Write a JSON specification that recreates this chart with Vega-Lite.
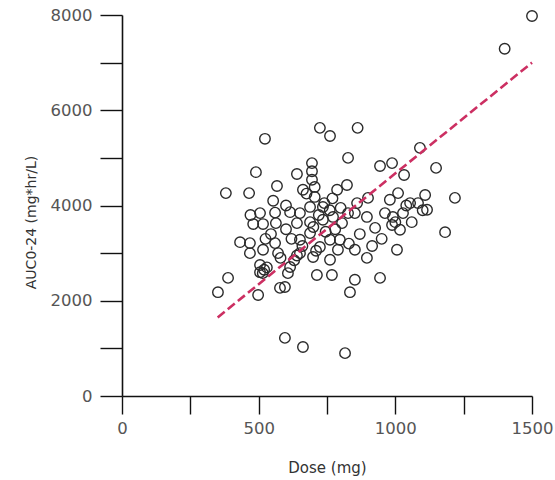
{
  "$schema": "https://vega.github.io/schema/vega-lite/v6.json",
  "autosize": "none",
  "width": 410,
  "height": 381,
  "padding": {"left": 122, "top": 15, "right": 23, "bottom": 84},
  "background": "white",
  "config": {
    "view": {"stroke": null},
    "font": "DejaVu Sans",
    "axis": {
      "grid": false,
      "domainColor": "#111",
      "domainWidth": 1.6,
      "tickColor": "#111",
      "tickWidth": 1.4,
      "labelColor": "#555",
      "labelFontSize": 16.5,
      "labelFont": "DejaVu Sans",
      "titleFont": "DejaVu Sans",
      "titleFontWeight": "normal",
      "titleColor": "#333"
    }
  },
  "datasets": {
    "pts": [
      {"dose": 1500, "auc": 7980}, {"dose": 1400, "auc": 7290}, {"dose": 523, "auc": 5400},
      {"dose": 724, "auc": 5630}, {"dose": 761, "auc": 5460}, {"dose": 862, "auc": 5630},
      {"dose": 827, "auc": 5000}, {"dose": 1090, "auc": 5210}, {"dose": 490, "auc": 4700},
      {"dose": 640, "auc": 4660}, {"dose": 695, "auc": 4890}, {"dose": 695, "auc": 4720},
      {"dose": 695, "auc": 4540}, {"dose": 944, "auc": 4830}, {"dose": 988, "auc": 4890},
      {"dose": 1032, "auc": 4640}, {"dose": 1149, "auc": 4790}, {"dose": 380, "auc": 4260},
      {"dose": 465, "auc": 4260}, {"dose": 567, "auc": 4410}, {"dose": 553, "auc": 4100},
      {"dose": 662, "auc": 4330}, {"dose": 705, "auc": 4390}, {"dose": 705, "auc": 4180},
      {"dose": 787, "auc": 4330}, {"dose": 823, "auc": 4430}, {"dose": 900, "auc": 4160},
      {"dose": 1010, "auc": 4260}, {"dose": 980, "auc": 4120}, {"dose": 1109, "auc": 4220},
      {"dose": 1218, "auc": 4160}, {"dose": 1054, "auc": 4050}, {"dose": 1083, "auc": 4050},
      {"dose": 1116, "auc": 3910}, {"dose": 1028, "auc": 3840}, {"dose": 962, "auc": 3840},
      {"dose": 991, "auc": 3760}, {"dose": 852, "auc": 3840}, {"dose": 896, "auc": 3760},
      {"dose": 926, "auc": 3530}, {"dose": 988, "auc": 3590}, {"dose": 1017, "auc": 3490},
      {"dose": 1182, "auc": 3440}, {"dose": 827, "auc": 3840}, {"dose": 805, "auc": 3630},
      {"dose": 797, "auc": 3280}, {"dose": 852, "auc": 3070}, {"dose": 896, "auc": 2900},
      {"dose": 1006, "auc": 3070}, {"dose": 790, "auc": 3070}, {"dose": 505, "auc": 3840},
      {"dose": 480, "auc": 3610}, {"dose": 516, "auc": 3610}, {"dose": 563, "auc": 3630},
      {"dose": 615, "auc": 3860}, {"dose": 651, "auc": 3840}, {"dose": 688, "auc": 3970},
      {"dose": 735, "auc": 3970}, {"dose": 640, "auc": 3630}, {"dose": 688, "auc": 3650},
      {"dose": 735, "auc": 3700}, {"dose": 772, "auc": 3760}, {"dose": 432, "auc": 3230},
      {"dose": 468, "auc": 3210}, {"dose": 468, "auc": 3000}, {"dose": 516, "auc": 3070},
      {"dose": 560, "auc": 3210}, {"dose": 571, "auc": 3000}, {"dose": 651, "auc": 3280},
      {"dose": 688, "auc": 3420}, {"dose": 724, "auc": 3130}, {"dose": 761, "auc": 3280},
      {"dose": 651, "auc": 3000}, {"dose": 699, "auc": 2920}, {"dose": 761, "auc": 2860},
      {"dose": 505, "auc": 2750}, {"dose": 615, "auc": 2710}, {"dose": 388, "auc": 2480},
      {"dose": 351, "auc": 2180}, {"dose": 505, "auc": 2600}, {"dose": 520, "auc": 2650},
      {"dose": 530, "auc": 2700}, {"dose": 515, "auc": 2580}, {"dose": 498, "auc": 2120},
      {"dose": 607, "auc": 2580}, {"dose": 578, "auc": 2270}, {"dose": 596, "auc": 2290},
      {"dose": 713, "auc": 2540}, {"dose": 768, "auc": 2540}, {"dose": 852, "auc": 2440},
      {"dose": 834, "auc": 2180}, {"dose": 944, "auc": 2480}, {"dose": 596, "auc": 1220},
      {"dose": 662, "auc": 1030}, {"dose": 816, "auc": 900},
      {"dose": 600, "auc": 3500}, {"dose": 620, "auc": 3300}, {"dose": 660, "auc": 3150},
      {"dose": 700, "auc": 3550}, {"dose": 720, "auc": 3800}, {"dose": 745, "auc": 3450},
      {"dose": 780, "auc": 3500}, {"dose": 760, "auc": 3900}, {"dose": 800, "auc": 3950},
      {"dose": 830, "auc": 3200}, {"dose": 870, "auc": 3400}, {"dose": 915, "auc": 3150},
      {"dose": 950, "auc": 3300}, {"dose": 1060, "auc": 3650}, {"dose": 1100, "auc": 3900},
      {"dose": 580, "auc": 2900}, {"dose": 630, "auc": 2850}, {"dose": 545, "auc": 3400},
      {"dose": 710, "auc": 3050}, {"dose": 740, "auc": 4050}, {"dose": 770, "auc": 4150},
      {"dose": 560, "auc": 3850}, {"dose": 675, "auc": 4250}, {"dose": 860, "auc": 4050},
      {"dose": 1040, "auc": 4000}, {"dose": 600, "auc": 4000}, {"dose": 525, "auc": 3300},
      {"dose": 470, "auc": 3800}, {"dose": 1000, "auc": 3650}, {"dose": 640, "auc": 2950}
    ],
    "fit": [
      {"dose": 350, "auc": 1650},
      {"dose": 1500, "auc": 7000}
    ]
  },
  "layer": [
    {
      "data": {"name": "pts"},
      "mark": {"type": "point", "shape": "circle", "filled": false, "size": 110, "stroke": "#2a2a2a", "strokeWidth": 1.4, "opacity": 1},
      "encoding": {
        "x": {
          "field": "dose", "type": "quantitative",
          "scale": {"domain": [0, 1500], "nice": false, "zero": false},
          "axis": {
            "title": "Dose (mg)",
            "titleFontSize": 15,
            "titlePadding": 24,
            "values": [0, 250, 500, 750, 1000, 1250, 1500],
            "format": "d",
            "labelExpr": "datum.value % 500 === 0 ? datum.label : ''",
            "tickSize": 18,
            "encoding": {"ticks": {"update": {"y2": {"signal": "datum.value % 500 === 0 ? 18 : 8"}}}},
            "labelPadding": 6,
            "labelFlush": false
          }
        },
        "y": {
          "field": "auc", "type": "quantitative",
          "scale": {"domain": [0, 8000], "nice": false, "zero": false},
          "axis": {
            "title": "AUC0-24 (mg*hr/L)",
            "titleFontSize": 14,
            "titlePadding": 12,
            "titleY": 207,
            "values": [0, 1000, 2000, 3000, 4000, 5000, 6000, 7000, 8000],
            "labelExpr": "datum.value % 2000 === 0 ? datum.label : ''",
            "format": "d",
            "tickSize": 22,
            "tickColor": "#111",
            "encoding": {"ticks": {"update": {"x": {"value": 0}, "x2": {"signal": "datum.value % 2000 === 0 ? -22 : -11"}}}},
            "labelPadding": 8,
            "labelFlush": false
          }
        }
      }
    },
    {
      "data": {"name": "fit"},
      "mark": {"type": "line", "color": "#cc2f62", "strokeWidth": 2.6, "strokeDash": [9, 4]},
      "encoding": {
        "x": {"field": "dose", "type": "quantitative"},
        "y": {"field": "auc", "type": "quantitative"}
      }
    }
  ]
}
